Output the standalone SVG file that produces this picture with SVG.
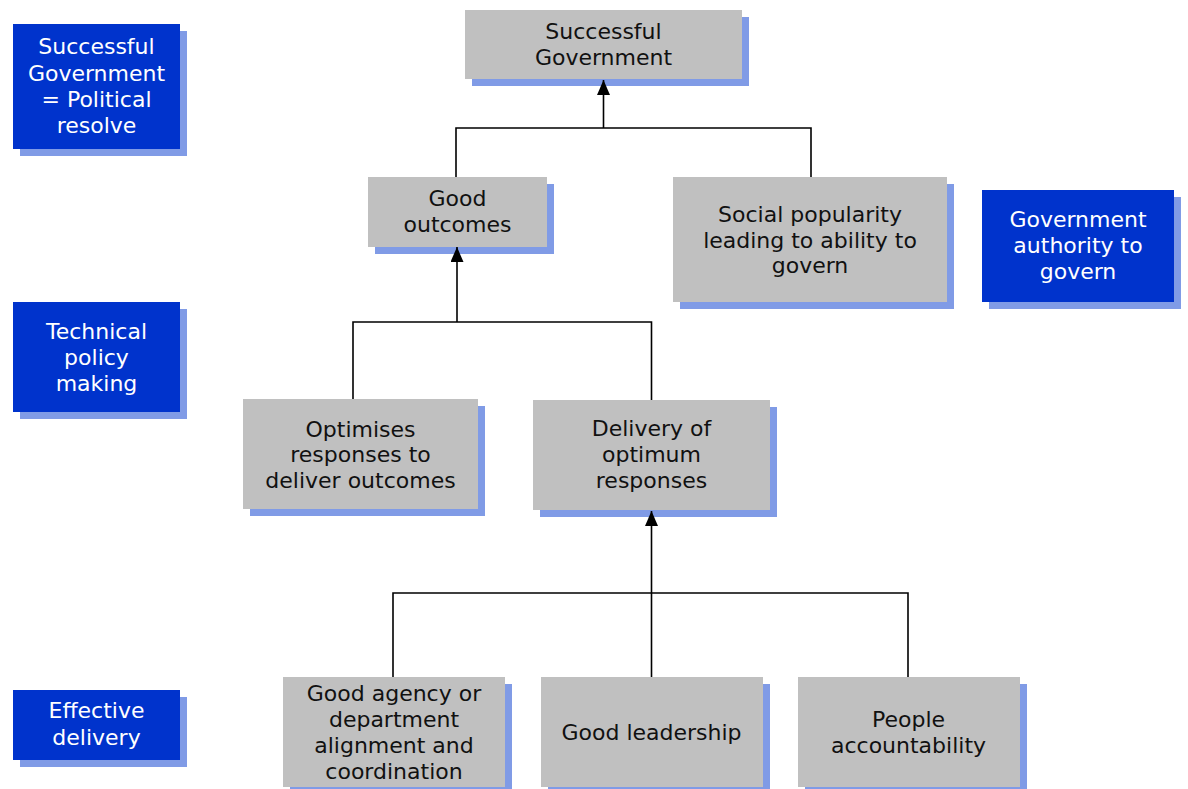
<svg xmlns="http://www.w3.org/2000/svg" width="1188" height="789" viewBox="0 0 1188 789">
<style>
.shadow{fill:#809BE6}
.gray{fill:#C0C0C0}
.blue{fill:#0033CC}
text{font-family:"DejaVu Sans","Verdana",sans-serif;font-size:22px;text-anchor:middle}
.dark{fill:#111111}
.light{fill:#FFFFFF}
.conn{fill:none;stroke:#000000;stroke-width:1.6}
</style>
<defs>
<marker id="arr" markerUnits="userSpaceOnUse" markerWidth="15" markerHeight="13" refX="15" refY="6.5" orient="auto">
<path d="M0,0 L15,6.5 L0,13 Z" fill="#000000"/>
</marker>
</defs>
<rect width="1188" height="789" fill="#FFFFFF"/>

<g id="label-political">
<rect class="shadow" x="20" y="31" width="167" height="125"/>
<rect class="blue" x="13" y="24" width="167" height="125"/>
<text class="light" x="96.5" y="54">Successful</text>
<text class="light" x="96.5" y="80.5">Government</text>
<text class="light" x="96.5" y="107">= Political</text>
<text class="light" x="96.5" y="133">resolve</text>
</g>

<g id="node-successful-government">
<rect class="shadow" x="472" y="17" width="277" height="69"/>
<rect class="gray" x="465" y="10" width="277" height="69"/>
<text class="dark" x="603.5" y="39">Successful</text>
<text class="dark" x="603.5" y="65">Government</text>
</g>

<g id="node-good-outcomes">
<rect class="shadow" x="375" y="184" width="179" height="70"/>
<rect class="gray" x="368" y="177" width="179" height="70"/>
<text class="dark" x="457.5" y="205.5">Good</text>
<text class="dark" x="457.5" y="232">outcomes</text>
</g>

<g id="node-social-popularity">
<rect class="shadow" x="680" y="184" width="274" height="125"/>
<rect class="gray" x="673" y="177" width="274" height="125"/>
<text class="dark" x="810" y="222">Social popularity</text>
<text class="dark" x="810" y="248">leading to ability to</text>
<text class="dark" x="810" y="273">govern</text>
</g>

<g id="label-authority">
<rect class="shadow" x="989" y="197" width="192" height="112"/>
<rect class="blue" x="982" y="190" width="192" height="112"/>
<text class="light" x="1078" y="227">Government</text>
<text class="light" x="1078" y="253">authority to</text>
<text class="light" x="1078" y="279">govern</text>
</g>

<g id="label-technical">
<rect class="shadow" x="20" y="309" width="167" height="110"/>
<rect class="blue" x="13" y="302" width="167" height="110"/>
<text class="light" x="96.5" y="339">Technical</text>
<text class="light" x="96.5" y="365">policy</text>
<text class="light" x="96.5" y="390.5">making</text>
</g>

<g id="node-optimises">
<rect class="shadow" x="250" y="406" width="235" height="110"/>
<rect class="gray" x="243" y="399" width="235" height="110"/>
<text class="dark" x="360.5" y="436.5">Optimises</text>
<text class="dark" x="360.5" y="462">responses to</text>
<text class="dark" x="360.5" y="488">deliver outcomes</text>
</g>

<g id="node-delivery">
<rect class="shadow" x="540" y="407" width="237" height="110"/>
<rect class="gray" x="533" y="400" width="237" height="110"/>
<text class="dark" x="651.5" y="435.5">Delivery of</text>
<text class="dark" x="651.5" y="461.5">optimum</text>
<text class="dark" x="651.5" y="487.5">responses</text>
</g>

<g id="label-effective">
<rect class="shadow" x="20" y="697" width="167" height="70"/>
<rect class="blue" x="13" y="690" width="167" height="70"/>
<text class="light" x="96.5" y="718">Effective</text>
<text class="light" x="96.5" y="745">delivery</text>
</g>

<g id="node-good-agency">
<rect class="shadow" x="290" y="684" width="222" height="110"/>
<rect class="gray" x="283" y="677" width="222" height="110"/>
<text class="dark" x="394" y="701">Good agency or</text>
<text class="dark" x="394" y="727">department</text>
<text class="dark" x="394" y="753">alignment and</text>
<text class="dark" x="394" y="779">coordination</text>
</g>

<g id="node-good-leadership">
<rect class="shadow" x="548" y="684" width="222" height="110"/>
<rect class="gray" x="541" y="677" width="222" height="110"/>
<text class="dark" x="651.5" y="739.5">Good leadership</text>
</g>

<g id="node-people">
<rect class="shadow" x="805" y="684" width="222" height="110"/>
<rect class="gray" x="798" y="677" width="222" height="110"/>
<text class="dark" x="908.5" y="727">People</text>
<text class="dark" x="908.5" y="753">accountability</text>
</g>

<g id="connectors">
<path class="conn" d="M456,177 V128 H811 V177"/>
<path class="conn" d="M603.5,128 V80" marker-end="url(#arr)"/>
<path class="conn" d="M353,399 V322 H651.5 V400"/>
<path class="conn" d="M457,322 V247" marker-end="url(#arr)"/>
<path class="conn" d="M393,677 V593 H908 V677"/>
<path class="conn" d="M651.5,677 V511" marker-end="url(#arr)"/>
</g>
</svg>
